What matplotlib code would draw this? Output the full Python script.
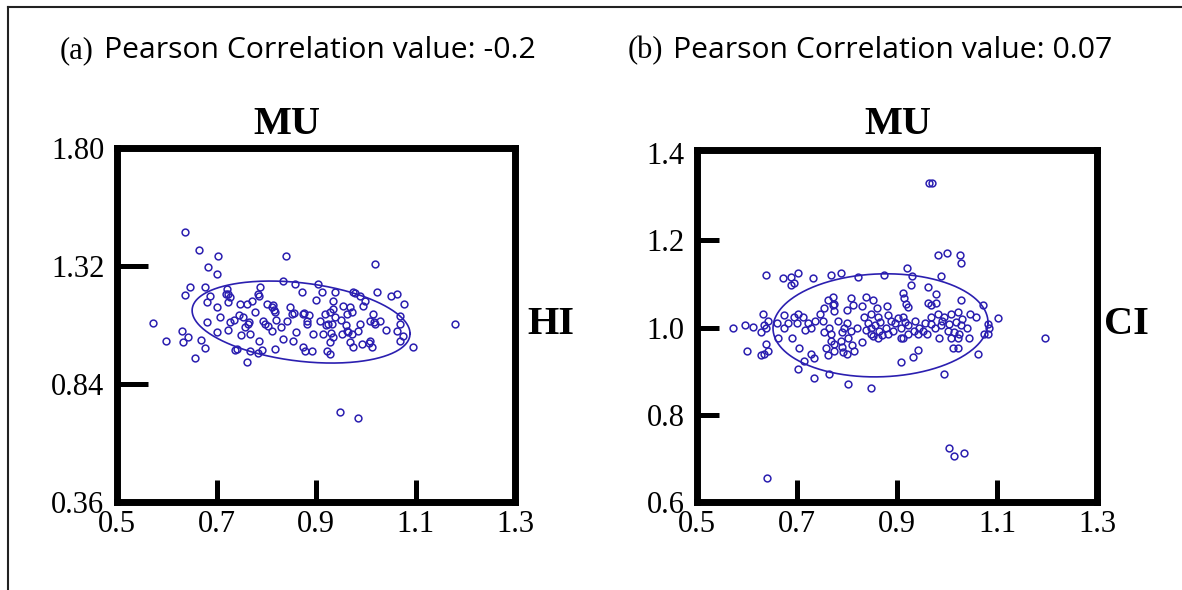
import numpy as np
import matplotlib
matplotlib.use("Agg")
import matplotlib.pyplot as plt
from matplotlib.lines import Line2D

# ---------------- data ----------------
mu_a = [0.637, 0.665, 0.703, 0.683, 0.701, 0.840, 0.572, 0.598, 0.631, 0.643,
        0.633, 0.669, 0.677, 0.657, 0.761, 0.785, 0.741, 0.767, 0.791, 0.818,
        0.637, 0.647, 0.677, 0.687, 0.723, 0.723, 0.721, 0.681, 0.701, 0.681,
        0.707, 0.727, 0.723, 0.747, 0.761, 0.771, 0.783, 0.787, 0.777, 0.753,
        0.763, 0.767, 0.801, 0.811, 0.818, 0.793, 0.803, 0.811, 0.834, 0.858,
        0.872, 0.848, 0.852, 0.842, 0.834, 0.854, 0.874, 0.878, 0.874, 0.882,
        1.019, 1.023, 1.063, 1.077, 1.179, 1.095, 1.069, 1.069, 1.063, 1.075,
        1.069, 0.974, 0.988, 0.998, 0.954, 0.968, 0.994, 0.962, 0.972, 1.009,
        1.019, 1.029, 1.015, 0.988, 0.984, 0.962, 0.952, 0.972, 0.968, 0.974,
        0.992, 1.009, 1.013, 0.934, 0.934, 0.938, 0.932, 0.938, 0.912, 0.904,
        0.918, 0.928, 0.908, 0.924, 0.894, 0.914, 0.934, 0.928, 0.922, 0.928,
        0.876, 0.882, 0.892, 0.948, 0.985, 0.745, 0.735, 0.820, 0.830, 0.950,
        0.960, 1.040, 1.050, 0.900, 0.860, 0.750, 0.700,
        0.727, 0.786, 0.814, 0.766, 0.798, 0.738, 0.784, 0.855, 0.978, 1.016,
        0.965, 1.006, 0.885, 0.931, 0.921, 0.719, 0.816, 0.758]
hi_a = [1.460, 1.387, 1.362, 1.317, 1.289, 1.362, 1.088, 1.015, 1.056, 1.031,
        1.011, 1.019, 0.986, 0.945, 0.929, 1.015, 0.982, 0.974, 0.978, 0.982,
        1.203, 1.236, 1.236, 1.199, 1.207, 1.174, 1.227, 1.174, 1.154, 1.092,
        1.113, 1.092, 1.060, 1.166, 1.166, 1.178, 1.207, 1.236, 1.133, 1.113,
        1.084, 1.043, 1.166, 1.154, 1.133, 1.096, 1.076, 1.056, 1.260, 1.248,
        1.215, 1.154, 1.125, 1.096, 1.023, 1.015, 0.990, 0.974, 1.125, 1.096,
        1.330, 1.215, 1.207, 1.166, 1.084, 0.990, 1.117, 1.084, 1.056, 1.035,
        1.015, 1.215, 1.199, 1.178, 1.158, 1.154, 1.158, 1.125, 1.133, 1.096,
        1.084, 1.096, 1.125, 1.084, 1.056, 1.056, 1.043, 1.043, 1.011, 0.990,
        1.002, 1.015, 0.990, 1.178, 1.145, 1.113, 1.084, 1.215, 1.215, 1.248,
        1.125, 1.133, 1.096, 1.084, 1.043, 1.043, 1.031, 1.011, 0.974, 0.961,
        1.130, 1.084, 0.974, 0.725, 0.700, 1.120, 1.100, 1.100, 1.070, 1.100,
        1.080, 1.060, 1.200, 1.180, 1.050, 1.040, 1.050,
        1.195, 1.200, 1.160, 1.093, 1.086, 0.978, 0.968, 1.130, 1.210, 1.093,
        1.050, 1.006, 1.120, 1.046, 1.080, 1.205, 1.140, 1.070]

mu_b = [0.637, 0.671, 0.687, 0.701, 0.693, 0.687, 0.731, 0.767, 0.572, 0.596,
        0.612, 0.631, 0.641, 0.633, 0.627, 0.637, 0.600, 0.637, 0.641, 0.627,
        0.633, 0.661, 0.673, 0.681, 0.693, 0.701, 0.711, 0.721, 0.727, 0.673,
        0.703, 0.727, 0.733, 0.713, 0.701, 0.733, 0.761, 0.771, 0.773, 0.753,
        0.751, 0.763, 0.753, 0.767, 0.757, 0.761, 0.767, 0.763, 0.964, 0.970,
        0.982, 1.000, 1.026, 1.028, 0.920, 0.988, 0.787, 0.821, 0.873, 0.930,
        0.928, 0.962, 0.978, 0.837, 0.851, 0.912, 0.914, 0.918, 0.922, 0.962,
        0.968, 0.978, 0.771, 0.773, 0.807, 0.811, 1.028, 1.072, 1.058, 1.102,
        1.082, 1.084, 1.074, 1.082, 1.044, 1.062, 1.195, 0.994, 0.847, 0.801,
        0.908, 0.932, 0.942, 0.908, 0.912, 0.984, 1.012, 1.022, 0.829, 0.813,
        0.791, 0.773, 0.781, 0.793, 0.807, 0.801, 0.787, 0.773, 0.833, 0.847,
        0.861, 0.881, 0.888, 0.902, 0.912, 0.847, 0.863, 0.877, 0.892, 0.908,
        0.922, 0.934, 0.944, 0.847, 0.861, 0.881, 0.922, 0.942, 0.952, 0.968,
        0.982, 0.994, 1.008, 1.022, 0.968, 0.988, 1.004, 1.018, 1.028, 1.002,
        1.014, 1.024, 1.008, 1.022, 0.640, 1.004, 1.014, 1.034, 0.790, 0.800,
        0.810, 0.790, 0.820, 0.800,
        0.842, 0.855, 0.838, 0.852, 0.866, 0.870, 0.895, 0.915, 0.935, 0.955,
        0.990, 1.030, 1.040, 1.045, 0.975, 0.960, 0.800, 0.830, 0.860, 0.880,
        0.735, 0.745, 0.700, 0.715, 0.690, 0.660]
ci_b = [1.120, 1.113, 1.115, 1.124, 1.103, 1.097, 1.113, 1.120, 0.998, 1.005,
        1.002, 1.032, 1.016, 1.005, 0.989, 0.998, 0.947, 0.963, 0.947, 0.936,
        0.940, 0.977, 1.028, 1.011, 1.023, 1.032, 1.023, 1.011, 1.000, 1.000,
        0.952, 0.940, 0.929, 0.924, 0.906, 0.885, 1.062, 1.051, 1.039, 1.044,
        1.016, 1.000, 0.989, 0.986, 0.954, 0.936, 0.970, 0.894, 1.331, 1.331,
        1.166, 1.170, 1.166, 1.147, 1.136, 1.117, 1.124, 1.115, 1.120, 1.117,
        1.097, 1.092, 1.076, 1.071, 1.064, 1.080, 1.067, 1.055, 1.046, 1.057,
        1.051, 1.057, 1.069, 1.055, 1.067, 1.051, 1.062, 1.051, 1.023, 1.021,
        1.009, 0.998, 0.986, 0.986, 0.977, 0.940, 0.977, 0.894, 0.862, 0.871,
        0.922, 0.933, 0.949, 0.975, 0.975, 0.975, 0.952, 0.952, 0.966, 0.947,
        0.943, 0.947, 1.016, 1.000, 0.993, 0.977, 0.970, 0.963, 1.023, 1.032,
        1.023, 1.028, 1.016, 1.021, 1.023, 1.000, 0.993, 1.000, 0.993, 1.000,
        1.005, 0.993, 1.000, 0.986, 0.975, 0.986, 0.986, 0.986, 0.993, 1.023,
        1.032, 1.023, 1.032, 1.035, 1.009, 1.005, 1.009, 1.012, 1.005, 0.993,
        0.989, 0.986, 0.977, 0.975, 0.655, 0.724, 0.706, 0.713, 0.990, 1.010,
        0.960, 0.955, 1.000, 0.940,
        1.010, 1.005, 0.995, 0.980, 1.012, 0.982, 1.010, 1.012, 1.015, 1.010,
        1.015, 1.020, 1.000, 1.030, 0.998, 0.985, 1.040, 1.050, 1.045, 1.050,
        1.015, 1.030, 1.010, 0.995, 0.975, 1.010]

# axis tick values / labels
xticks = [0.5, 0.7, 0.9, 1.1, 1.3]
xlabels = ["0.5", "0.7", "0.9", "1.1", "1.3"]
yticks_a = [0.36, 0.84, 1.32, 1.80]
ylabels_a = ["0.36", "0.84", "1.32", "1.80"]
yticks_b = [0.6, 0.8, 1.0, 1.2, 1.4]
ylabels_b = ["0.6", "0.8", "1.0", "1.2", "1.4"]

# ellipse parameters: centre x, centre y, half width, half height, shear
ell_a = (0.870, 1.092, 0.219, 0.160, -0.215)
ell_b = (0.867, 1.005, 0.215, 0.118, 0.03)

corr_a = "-0.2"
corr_b = "0.07"

# ---------------- style ----------------
PT = "#2b1fb0"
SERIF = ["Liberation Serif", "DejaVu Serif"]
SANS = ["Open Sans", "DejaVu Sans"]

fig = plt.figure(figsize=(11.82, 5.90), dpi=100)
fig.patch.set_facecolor("white")

# outer frame (top and left edges)
fig.add_artist(Line2D([8 / 1182, 1.0], [1 - 7 / 590, 1 - 7 / 590],
                      transform=fig.transFigure, color="#222222", lw=1.5))
fig.add_artist(Line2D([8 / 1182, 8 / 1182], [0.0, 1 - 7 / 590],
                      transform=fig.transFigure, color="#222222", lw=1.5))


def ellipse_xy(cx, cy, a, b, k):
    t = np.linspace(0, 2 * np.pi, 400)
    x = cx + a * np.cos(t)
    y = cy + b * np.sin(t) + k * a * np.cos(t)
    return x, y


def panel(rect, xs, ys, ell, yticks, ylabels, ylim, ytick_len):
    ax = fig.add_axes(rect)
    ax.plot(xs, ys, linestyle="none", marker="o", ms=4.9, mfc="none",
            mec=PT, mew=1.1)
    ex, ey = ellipse_xy(*ell)
    ax.plot(ex, ey, color=PT, lw=1.2)
    ax.set_xlim(0.5, 1.3)
    ax.set_ylim(*ylim)
    ax.set_xticks(xticks)
    ax.set_xticklabels(xlabels, fontsize=22, family=SERIF)
    ax.set_yticks(yticks)
    ax.set_yticklabels(ylabels, fontsize=22, family=SERIF)
    ax.tick_params(axis="x", direction="in", length=16, width=3.6, pad=6)
    ax.tick_params(axis="y", direction="in", length=ytick_len, width=3.6, pad=9)
    for s in ax.spines.values():
        s.set_linewidth(5.0)
        s.set_color("black")
        s.set_capstyle("projecting")
    return ax


ax_a = panel([117 / 1182, 88 / 590, 398 / 1182, 354 / 590], mu_a, hi_a, ell_a,
             yticks_a, ylabels_a, (0.36, 1.80), 22)
ax_b = panel([697 / 1182, 88 / 590, 400 / 1182, 352 / 590], mu_b, ci_b, ell_b,
             yticks_b, ylabels_b, (0.6, 1.407), 16)
# the 1.4 label sits just under the top edge without a tick mark
ax_b.yaxis.get_major_ticks()[-1].tick1line.set_visible(False)

# headings
HEAD_Y = 1 - 51 / 590
fig.text(60 / 1182, HEAD_Y, "(a)", family=SERIF, fontsize=22, va="center")
fig.text(104 / 1182, HEAD_Y, "Pearson Correlation value: " + corr_a,
         family=SANS, fontsize=21.7, va="center")
fig.text(628 / 1182, HEAD_Y, "(b)", family=SERIF, fontsize=22, va="center")
fig.text(673 / 1182, HEAD_Y, "Pearson Correlation value: " + corr_b,
         family=SANS, fontsize=21.7, va="center")

# axis names
fig.text(287 / 1182, 1 - 125 / 590, "MU", family=SERIF, fontsize=29,
         fontweight="bold", ha="center", va="center")
fig.text(898 / 1182, 1 - 125 / 590, "MU", family=SERIF, fontsize=29,
         fontweight="bold", ha="center", va="center")
fig.text(551 / 1182, 1 - 325 / 590, "HI", family=SERIF, fontsize=29,
         fontweight="bold", ha="center", va="center")
fig.text(1126 / 1182, 1 - 325 / 590, "CI", family=SERIF, fontsize=29,
         fontweight="bold", ha="center", va="center")

fig.savefig("out.png", dpi=100, facecolor="white")
